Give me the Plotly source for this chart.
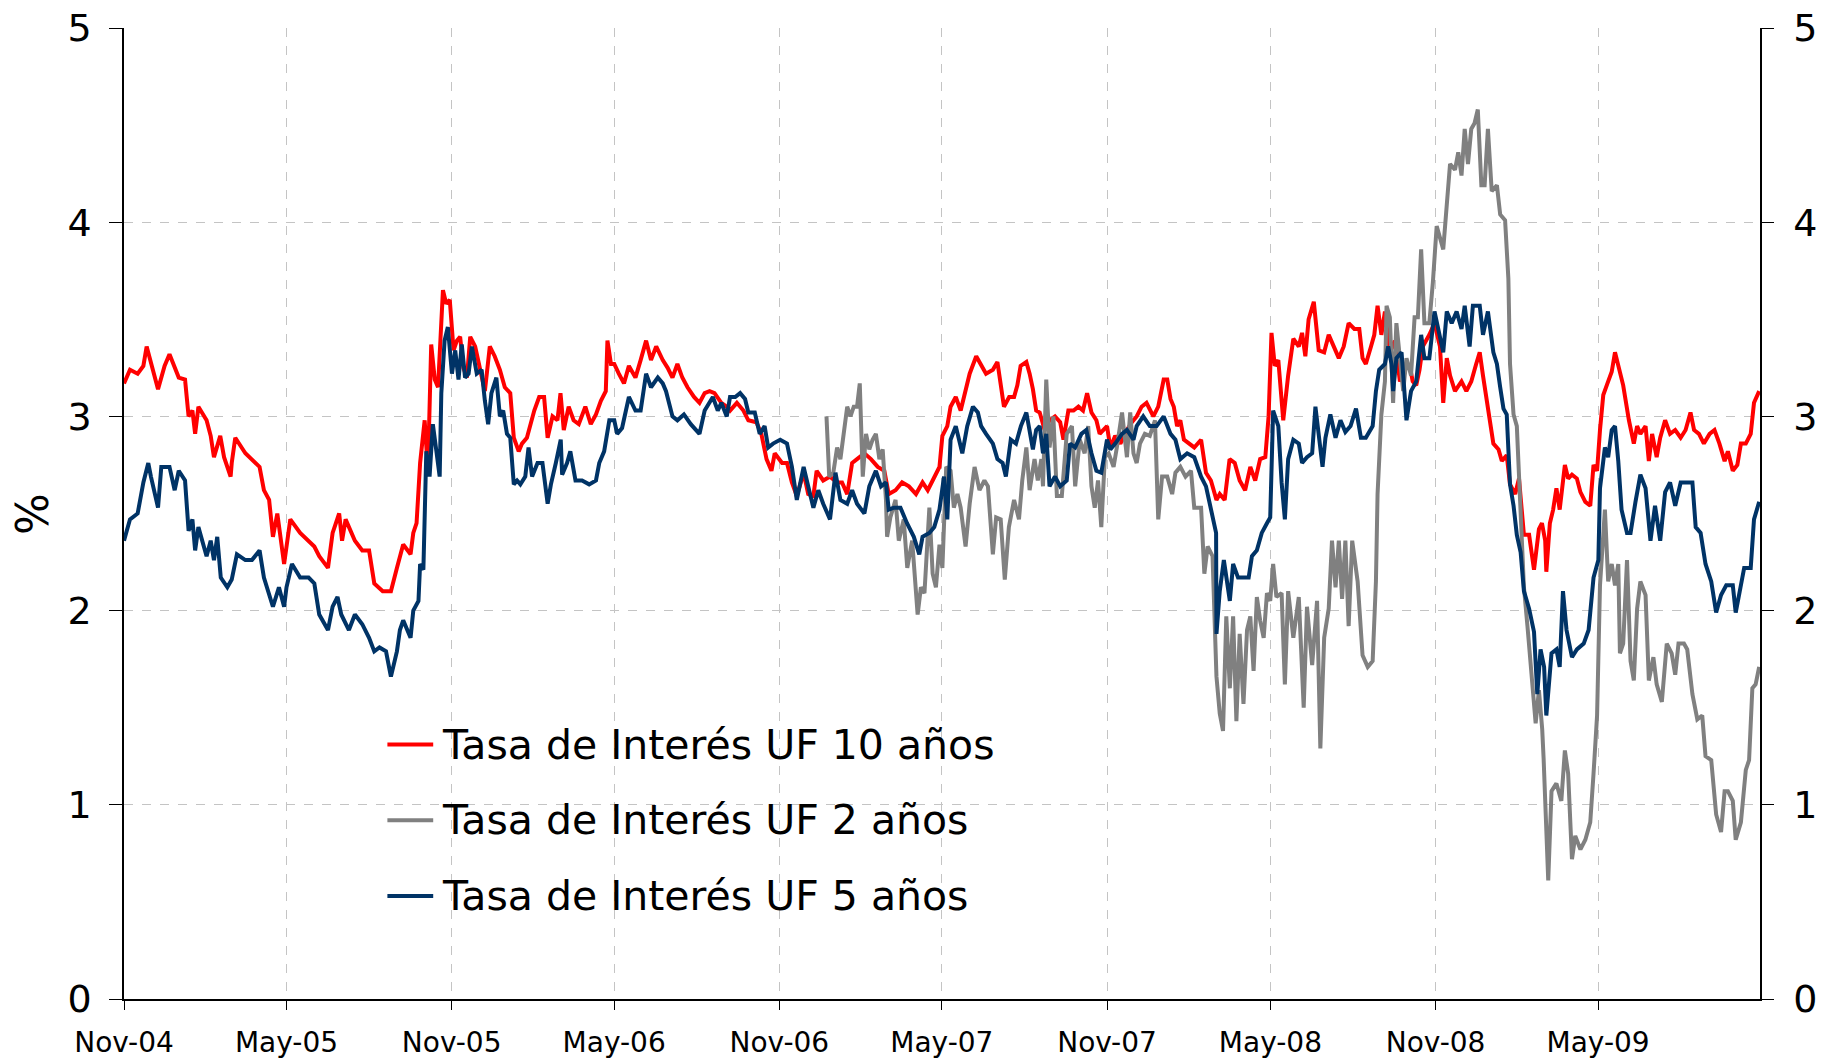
import pandas as pd
import plotly.graph_objects as go

# x values are months elapsed since 1 Nov 2004 (fractional), y values in %
START = pd.Timestamp("2004-11-01")

# --- Tasa de Interés UF 10 años ---
m10 = [0.0, 0.22, 0.5, 0.71, 0.83, 1.0, 1.26, 1.5, 1.68, 2.0, 2.23, 2.36, 2.5, 2.6, 2.72, 3.0, 3.15, 3.27, 3.5, 3.64,
       3.88, 4.0, 4.13, 4.5, 4.74, 5.0, 5.16, 5.35, 5.49, 5.65, 5.9, 6.0, 6.14, 6.5, 6.81, 7.0, 7.18, 7.5, 7.67, 7.91,
       8.03, 8.16, 8.5, 8.77, 9.0, 9.19, 9.5, 9.8, 10.0, 10.23, 10.5, 10.6, 10.72, 10.85, 11.03, 11.15, 11.27, 11.4,
       11.52, 11.58, 11.7, 11.82, 11.95, 12.07, 12.19, 12.31, 12.43, 12.56, 12.68, 12.86, 13.04, 13.23, 13.41, 13.59,
       13.78, 13.96, 14.14, 14.27, 14.45, 14.57, 14.75, 15.0, 15.18, 15.36, 15.49, 15.67, 15.85, 16.04, 16.16, 16.34,
       16.52, 16.71, 16.95, 17.13, 17.32, 17.5, 17.68, 17.74, 17.87, 17.99, 18.17, 18.36, 18.54, 18.78, 18.97, 19.15,
       19.33, 19.52, 19.76, 19.94, 20.13, 20.31, 20.49, 20.68, 20.92, 21.1, 21.29, 21.47, 21.65, 21.9, 22.08, 22.2,
       22.45, 22.69, 22.87, 23.18, 23.36, 23.55, 23.73, 23.85, 24.1, 24.28, 24.46, 24.64, 24.89, 25.07, 25.26, 25.38,
       25.62, 25.87, 26.11, 26.29, 26.48, 26.66, 26.84, 27.09, 27.33, 27.58, 27.82, 28.06, 28.31, 28.55, 28.8, 29.04,
       29.28, 29.47, 29.65, 29.9, 30.02, 30.2, 30.32, 30.51, 30.69, 30.81, 31.0, 31.24, 31.42, 31.6, 31.85, 32.03,
       32.27, 32.46, 32.64, 32.76, 32.88, 33.07, 33.19, 33.31, 33.43, 33.56, 33.74, 33.92, 34.1, 34.29, 34.41, 34.59,
       34.78, 34.96, 35.14, 35.29, 35.45, 35.63, 35.75, 36.0, 36.12, 36.3, 36.49, 36.73, 36.91, 37.1, 37.28, 37.46,
       37.71, 37.89, 38.07, 38.2, 38.32, 38.44, 38.56, 38.68, 38.81, 38.99, 39.17, 39.42, 39.6, 39.78, 40.03, 40.15,
       40.33, 40.51, 40.7, 40.88, 41.06, 41.25, 41.43, 41.61, 41.8, 41.92, 42.04, 42.16, 42.29, 42.47, 42.65, 42.84,
       43.02, 43.14, 43.26, 43.38, 43.57, 43.75, 43.95, 44.13, 44.31, 44.5, 44.68, 44.86, 45.05, 45.23, 45.35, 45.47,
       45.66, 45.78, 45.9, 46.02, 46.15, 46.33, 46.51, 46.7, 46.88, 47.06, 47.18, 47.31, 47.43, 47.55, 47.79, 47.98,
       48.16, 48.28, 48.41, 48.53, 48.71, 48.95, 49.14, 49.32, 49.5, 49.63, 49.75, 49.93, 50.11, 50.3, 50.42, 50.6,
       50.72, 50.91, 51.03, 51.21, 51.4, 51.58, 51.76, 51.87, 51.99, 52.11, 52.24, 52.36, 52.48, 52.6, 52.79, 52.91,
       53.03, 53.21, 53.34, 53.52, 53.7, 53.82, 53.95, 54.07, 54.19, 54.37, 54.5, 54.62, 54.8, 54.92, 55.11, 55.29,
       55.41, 55.53, 55.72, 55.84, 55.96, 56.14, 56.27, 56.45, 56.63, 56.82, 57.0, 57.18, 57.36, 57.49, 57.67, 57.85,
       58.04, 58.22, 58.4, 58.59, 58.71, 58.89, 59.07, 59.2, 59.38, 59.56, 59.68, 59.87]
uf10 = [3.17, 3.24, 3.22, 3.26, 3.36, 3.27, 3.14, 3.26, 3.32, 3.20, 3.19, 3.00, 3.03, 2.91, 3.05, 2.98, 2.90, 2.79, 2.90, 2.79,
        2.69, 2.76, 2.89, 2.81, 2.78, 2.74, 2.62, 2.57, 2.38, 2.50, 2.24, 2.34, 2.47, 2.40, 2.36, 2.33, 2.28, 2.22, 2.40, 2.50,
        2.36, 2.47, 2.36, 2.31, 2.31, 2.14, 2.10, 2.10, 2.22, 2.34, 2.29, 2.40, 2.45, 2.76, 2.98, 2.72, 3.37, 3.19,
        3.15, 3.31, 3.65, 3.58, 3.60, 3.34, 3.39, 3.41, 3.25, 3.20, 3.41, 3.36, 3.25, 3.13, 3.36, 3.31,
        3.24, 3.15, 3.12, 2.89, 2.82, 2.86, 2.89, 3.03, 3.10, 3.10, 2.89, 3.00, 2.98, 3.12, 2.93, 3.05,
        2.98, 2.96, 3.05, 2.96, 3.01, 3.08, 3.13, 3.39, 3.27, 3.27, 3.22, 3.17, 3.26, 3.20, 3.29, 3.39,
        3.29, 3.36, 3.29, 3.25, 3.20, 3.27, 3.20, 3.15, 3.10, 3.07, 3.12, 3.13, 3.12, 3.07, 3.05, 3.03,
        3.07, 3.03, 2.98, 2.97, 2.91, 2.78, 2.72, 2.81, 2.76, 2.76, 2.66, 2.59, 2.71, 2.60, 2.59, 2.72,
        2.67, 2.69, 2.66, 2.66, 2.60, 2.76, 2.78, 2.81, 2.78, 2.74, 2.72, 2.60, 2.62, 2.66, 2.64, 2.60,
        2.66, 2.62, 2.67, 2.74, 2.90, 2.95, 3.05, 3.10, 3.03, 3.10, 3.22, 3.31, 3.26, 3.22, 3.24, 3.28,
        3.05, 3.10, 3.10, 3.16, 3.26, 3.28, 3.22, 3.14, 3.03, 3.02, 2.93, 2.98, 3.00, 2.97, 2.88, 3.03,
        3.03, 3.05, 3.03, 3.12, 3.02, 2.98, 2.91, 2.95, 2.84, 2.90, 2.86, 2.93, 2.97, 3.00, 3.05, 3.07,
        3.00, 3.05, 3.19, 3.19, 3.09, 3.05, 2.95, 2.98, 2.88, 2.86, 2.84, 2.88, 2.71, 2.67, 2.57, 2.60,
        2.57, 2.78, 2.76, 2.67, 2.62, 2.74, 2.67, 2.78, 2.79, 3.00, 3.43, 3.26, 3.29, 2.98, 3.21, 3.40,
        3.36, 3.43, 3.31, 3.50, 3.59, 3.34, 3.33, 3.42, 3.36, 3.30, 3.36, 3.48, 3.45, 3.45, 3.30, 3.27,
        3.36, 3.42, 3.57, 3.42, 3.54, 3.33, 3.39, 3.18, 3.24, 3.27, 3.18, 3.16, 3.24, 3.36, 3.42, 3.48,
        3.36, 3.07, 3.30, 3.21, 3.13, 3.18, 3.13, 3.18, 3.27, 3.33, 3.21, 3.04, 2.86, 2.83, 2.77, 2.80,
        2.65, 2.60, 2.68, 2.39, 2.39, 2.21, 2.42, 2.45, 2.36, 2.20, 2.45, 2.52, 2.63, 2.52, 2.75, 2.68,
        2.70, 2.68, 2.61, 2.56, 2.54, 2.75, 2.72, 2.93, 3.11, 3.18, 3.23, 3.33, 3.23, 3.16, 2.98, 2.86,
        2.95, 2.91, 2.95, 2.77, 2.91, 2.79, 2.89, 2.98, 2.91, 2.93, 2.89, 2.93, 3.02, 2.93, 2.91, 2.86,
        2.91, 2.93, 2.86, 2.77, 2.82, 2.72, 2.75, 2.86, 2.86, 2.91, 3.07, 3.13]

# --- Tasa de Interés UF 2 años (starts Dec 2006) ---
m2 = [25.74, 25.84, 25.99, 26.11, 26.23, 26.35, 26.48, 26.6, 26.72, 26.84, 26.94, 27.03, 27.15, 27.27, 27.39, 27.51,
      27.64, 27.76, 27.88, 28.0, 28.12, 28.31, 28.43, 28.61, 28.74, 28.92, 29.1, 29.22, 29.35, 29.53, 29.65, 29.77,
      29.9, 30.02, 30.16, 30.32, 30.44, 30.57, 30.69, 30.87, 31.0, 31.18, 31.36, 31.54, 31.67, 31.85, 31.97, 32.15,
      32.3, 32.45, 32.64, 32.82, 32.94, 33.07, 33.19, 33.37, 33.49, 33.62, 33.68, 33.8, 33.92, 34.04, 34.17, 34.35,
      34.53, 34.72, 34.84, 35.02, 35.2, 35.33, 35.45, 35.57, 35.69, 35.81, 35.94, 36.06, 36.24, 36.36, 36.55, 36.73,
      36.85, 36.97, 37.1, 37.22, 37.4, 37.58, 37.77, 37.89, 38.01, 38.2, 38.38, 38.5, 38.68, 38.87, 39.05, 39.17,
      39.42, 39.54, 39.66, 39.84, 39.9, 40.03, 40.15, 40.27, 40.39, 40.52, 40.64, 40.76, 40.88, 41.0, 41.13, 41.25,
      41.37, 41.49, 41.61, 41.74, 41.86, 41.98, 42.1, 42.22, 42.41, 42.53, 42.65, 42.84, 43.02, 43.2, 43.32, 43.51,
      43.69, 43.81, 43.95, 44.13, 44.25, 44.38, 44.5, 44.62, 44.74, 44.86, 44.99, 45.17, 45.35, 45.54, 45.72, 45.84,
      45.9, 46.02, 46.15, 46.21, 46.33, 46.45, 46.57, 46.7, 46.82, 46.94, 47.12, 47.25, 47.37, 47.49, 47.61, 47.79,
      47.92, 48.04, 48.16, 48.28, 48.41, 48.53, 48.71, 48.83, 48.95, 49.08, 49.2, 49.32, 49.44, 49.56, 49.69, 49.81,
      49.93, 50.05, 50.24, 50.36, 50.54, 50.66, 50.72, 50.85, 50.97, 51.09, 51.21, 51.34, 51.52, 51.64, 51.76, 51.88,
      52.01, 52.18, 52.3, 52.48, 52.66, 52.79, 52.91, 53.03, 53.15, 53.34, 53.52, 53.7, 53.82, 53.95, 54.07, 54.25,
      54.37, 54.5, 54.62, 54.74, 54.8, 54.92, 55.04, 55.17, 55.29, 55.41, 55.53, 55.72, 55.84, 56.02, 56.14, 56.33,
      56.51, 56.69, 56.82, 56.94, 57.12, 57.24, 57.43, 57.61, 57.79, 57.91, 58.1, 58.28, 58.46, 58.59, 58.71, 58.89,
      59.01, 59.2, 59.38, 59.5, 59.62, 59.74, 59.87]
uf2 = [3.00, 2.69, 2.71, 2.84, 2.78, 2.90, 3.05, 3.00, 3.05, 3.05, 3.17, 2.69, 2.91, 2.83, 2.88, 2.91,
       2.78, 2.83, 2.57, 2.38, 2.48, 2.57, 2.36, 2.47, 2.22, 2.36, 1.98, 2.12, 2.09, 2.53, 2.19, 2.12,
       2.34, 2.22, 2.74, 2.72, 2.53, 2.60, 2.53, 2.33, 2.55, 2.74, 2.62, 2.67, 2.64, 2.29, 2.48, 2.47,
       2.16, 2.43, 2.57, 2.47, 2.67, 2.84, 2.62, 2.78, 2.67, 2.78, 2.64, 3.19, 2.84, 3.00, 2.59, 2.59,
       2.91, 2.95, 2.64, 2.88, 2.81, 2.95, 2.64, 2.53, 2.67, 2.43, 2.79, 2.81, 2.74, 2.84, 3.02, 2.79,
       3.02, 2.81, 2.76, 2.86, 2.91, 2.90, 2.98, 2.47, 2.69, 2.69, 2.60, 2.71, 2.74, 2.69, 2.72, 2.53,
       2.53, 2.19, 2.33, 2.28, 2.05, 1.66, 1.47, 1.38, 1.97, 1.60, 1.97, 1.43, 1.88, 1.52, 1.90, 1.97,
       1.69, 2.07, 1.95, 1.86, 2.09, 2.05, 2.24, 2.07, 2.09, 1.62, 2.10, 1.86, 2.07, 1.50, 2.02, 1.72,
       2.05, 1.29, 1.86, 2.01, 2.36, 2.12, 2.36, 2.06, 2.36, 1.92, 2.36, 2.15, 1.77, 1.71, 1.74, 2.15,
       2.60, 3.01, 3.18, 3.57, 3.51, 3.07, 3.48, 3.30, 3.13, 3.30, 3.21, 3.51, 3.51, 3.86, 3.48, 3.48,
       3.69, 3.98, 3.92, 3.86, 4.09, 4.30, 4.27, 4.36, 4.24, 4.48, 4.30, 4.48, 4.51, 4.58, 4.19, 4.19,
       4.48, 4.16, 4.19, 4.04, 4.01, 3.71, 3.27, 3.01, 2.95, 2.45, 2.12, 1.92, 1.62, 1.42, 1.59, 1.39,
       1.24, 0.61, 1.07, 1.11, 1.02, 1.28, 1.16, 0.72, 0.84, 0.77, 0.82, 0.91, 1.16, 1.46, 2.13, 2.52,
       2.15, 2.24, 2.13, 2.24, 1.78, 1.83, 2.26, 1.74, 1.64, 2.01, 2.15, 2.08, 1.64, 1.76, 1.62, 1.53,
       1.83, 1.78, 1.67, 1.83, 1.83, 1.80, 1.57, 1.44, 1.46, 1.25, 1.23, 0.95, 0.86, 1.07, 1.07, 1.02,
       0.82, 0.91, 1.18, 1.23, 1.60, 1.62, 1.71]

# --- Tasa de Interés UF 5 años ---
m5 = [0.0, 0.22, 0.5, 0.71, 0.89, 1.0, 1.26, 1.38, 1.68, 1.87, 2.0, 2.23, 2.36, 2.5, 2.6, 2.72, 3.0, 3.15, 3.27, 3.39,
      3.52, 3.76, 4.0, 4.19, 4.5, 4.74, 5.0, 5.16, 5.49, 5.71, 5.9, 6.0, 6.2, 6.5, 6.81, 7.0, 7.18, 7.5, 7.67, 7.85,
      8.0, 8.28, 8.5, 8.77, 9.0, 9.19, 9.38, 9.62, 9.8, 10.0, 10.11, 10.23, 10.5, 10.6, 10.79, 10.85, 10.97, 11.09,
      11.21, 11.33, 11.46, 11.58, 11.64, 11.76, 11.88, 12.01, 12.13, 12.25, 12.37, 12.49, 12.62, 12.74, 12.92, 13.11,
      13.23, 13.35, 13.47, 13.65, 13.78, 13.9, 14.02, 14.14, 14.27, 14.39, 14.51, 14.69, 14.81, 14.94, 15.12, 15.3,
      15.49, 15.61, 15.79, 15.97, 16.1, 16.28, 16.4, 16.59, 16.83, 17.07, 17.32, 17.44, 17.62, 17.81, 17.99, 18.11,
      18.29, 18.54, 18.78, 18.97, 19.15, 19.33, 19.58, 19.76, 19.88, 20.0, 20.13, 20.31, 20.55, 20.8, 20.98, 21.1,
      21.29, 21.47, 21.59, 21.77, 21.9, 22.08, 22.2, 22.39, 22.57, 22.75, 22.87, 23.12, 23.3, 23.48, 23.61, 23.79,
      24.03, 24.28, 24.46, 24.64, 24.89, 25.07, 25.26, 25.44, 25.62, 25.87, 26.05, 26.23, 26.48, 26.66, 26.84, 27.09,
      27.27, 27.51, 27.7, 27.88, 28.06, 28.25, 28.49, 28.73, 28.98, 29.16, 29.28, 29.53, 29.71, 29.9, 30.08, 30.2,
      30.32, 30.51, 30.75, 30.93, 31.12, 31.3, 31.42, 31.6, 31.85, 32.03, 32.22, 32.34, 32.52, 32.71, 32.89, 33.07,
      33.19, 33.31, 33.43, 33.56, 33.68, 33.8, 33.92, 34.1, 34.29, 34.53, 34.65, 34.84, 35.08, 35.26, 35.45, 35.63,
      35.81, 36.0, 36.12, 36.3, 36.55, 36.73, 36.97, 37.1, 37.34, 37.58, 37.83, 38.07, 38.32, 38.5, 38.68, 38.93,
      39.17, 39.42, 39.6, 39.78, 39.97, 40.03, 40.15, 40.3, 40.52, 40.64, 40.82, 41.19, 41.31, 41.49, 41.67, 41.86,
      41.98, 42.1, 42.29, 42.41, 42.53, 42.65, 42.84, 43.02, 43.14, 43.32, 43.51, 43.63, 43.75, 43.89, 44.01, 44.19,
      44.38, 44.56, 44.74, 44.93, 45.11, 45.29, 45.47, 45.72, 45.84, 45.96, 46.15, 46.27, 46.39, 46.45, 46.57, 46.76,
      46.94, 47.12, 47.31, 47.49, 47.61, 47.79, 47.98, 48.1, 48.28, 48.41, 48.59, 48.77, 48.95, 49.08, 49.26, 49.38,
      49.63, 49.75, 49.93, 50.11, 50.24, 50.36, 50.48, 50.6, 50.72, 50.85, 50.97, 51.09, 51.21, 51.4, 51.58, 51.7,
      51.82, 51.95, 52.11, 52.3, 52.48, 52.6, 52.72, 52.85, 53.03, 53.21, 53.46, 53.64, 53.82, 54.01, 54.07, 54.25,
      54.37, 54.5, 54.62, 54.74, 54.86, 55.04, 55.17, 55.35, 55.53, 55.72, 55.9, 56.08, 56.27, 56.45, 56.63, 56.82,
      57.0, 57.24, 57.43, 57.55, 57.73, 57.91, 58.1, 58.28, 58.46, 58.65, 58.89, 59.01, 59.2, 59.32, 59.56, 59.68,
      59.87]
uf5 = [2.36, 2.47, 2.50, 2.66, 2.76, 2.69, 2.53, 2.74, 2.74, 2.62, 2.72, 2.67, 2.41, 2.47, 2.31, 2.43, 2.28, 2.36, 2.26, 2.38,
       2.17, 2.12, 2.16, 2.29, 2.26, 2.26, 2.31, 2.17, 2.02, 2.12, 2.02, 2.12, 2.24, 2.17, 2.17, 2.14, 1.98, 1.90, 2.02, 2.07,
       1.98, 1.90, 1.98, 1.93, 1.86, 1.79, 1.81, 1.79, 1.66, 1.79, 1.90, 1.95, 1.86, 2.00, 2.05, 2.24, 2.21, 2.82,
       2.69, 2.96, 2.82, 2.69, 3.12, 3.39, 3.46, 3.22, 3.34, 3.19, 3.37, 3.20, 3.22, 3.36, 3.22, 3.24,
       3.08, 2.96, 3.12, 3.20, 3.00, 3.03, 2.91, 2.89, 2.65, 2.67, 2.65, 2.69, 2.84, 2.69, 2.76, 2.76,
       2.55, 2.65, 2.76, 2.88, 2.70, 2.76, 2.82, 2.67, 2.67, 2.65, 2.67, 2.76, 2.82, 2.98, 2.98, 2.91,
       2.94, 3.10, 3.03, 3.03, 3.22, 3.15, 3.20, 3.17, 3.13, 3.07, 3.00, 2.98, 3.01, 2.96, 2.93, 2.91,
       3.03, 3.07, 3.10, 3.03, 3.07, 3.00, 3.10, 3.10, 3.12, 3.09, 3.02, 3.02, 2.91, 2.95, 2.84, 2.86,
       2.88, 2.86, 2.74, 2.57, 2.74, 2.64, 2.53, 2.62, 2.55, 2.47, 2.71, 2.57, 2.55, 2.62, 2.55, 2.50,
       2.64, 2.72, 2.64, 2.66, 2.52, 2.53, 2.53, 2.45, 2.38, 2.29, 2.38, 2.40, 2.43, 2.52, 2.69, 2.47,
       2.88, 2.95, 2.81, 2.95, 3.05, 3.02, 2.95, 2.91, 2.86, 2.78, 2.76, 2.69, 2.88, 2.86, 2.95, 3.02,
       2.91, 2.83, 2.93, 2.95, 2.81, 2.91, 2.64, 2.69, 2.64, 2.67, 2.86, 2.84, 2.91, 2.93, 2.81, 2.72,
       2.71, 2.88, 2.83, 2.86, 2.91, 2.93, 2.88, 2.95, 3.00, 2.95, 2.95, 3.00, 2.91, 2.88, 2.78, 2.81,
       2.79, 2.69, 2.64, 2.53, 2.40, 1.88, 2.10, 2.26, 2.05, 2.24, 2.17, 2.17, 2.28, 2.31, 2.40, 2.45,
       2.48, 3.03, 2.95, 2.66, 2.47, 2.78, 2.88, 2.86, 2.76, 2.79, 2.81, 3.05, 2.91, 2.74, 2.89, 3.01,
       2.89, 2.98, 2.92, 2.95, 3.04, 2.89, 2.89, 2.95, 3.13, 3.24, 3.27, 3.36, 3.27, 3.13, 3.30, 3.33,
       2.98, 3.13, 3.18, 3.42, 3.30, 3.30, 3.54, 3.45, 3.33, 3.54, 3.48, 3.54, 3.45, 3.57, 3.36, 3.57,
       3.57, 3.42, 3.54, 3.33, 3.27, 3.15, 3.04, 3.01, 2.65, 2.54, 2.39, 2.30, 2.10, 2.01, 1.89, 1.57,
       1.80, 1.71, 1.46, 1.78, 1.80, 1.71, 2.10, 1.90, 1.76, 1.80, 1.83, 1.90, 2.17, 2.26, 2.63, 2.84,
       2.79, 2.93, 2.95, 2.77, 2.52, 2.40, 2.40, 2.56, 2.70, 2.63, 2.36, 2.54, 2.36, 2.61, 2.66, 2.54,
       2.66, 2.66, 2.66, 2.43, 2.40, 2.24, 2.15, 1.99, 2.08, 2.13, 2.13, 1.99, 2.13, 2.22, 2.22, 2.47,
       2.56]


def to_dates(months):
    # fractional month offsets -> timestamps
    out = []
    for m in months:
        whole = int(m)
        out.append(START + pd.DateOffset(months=whole) + pd.Timedelta(days=(m - whole) * 30.4))
    return out


series = [
    ("Tasa de Interés UF 10 años", m10, uf10, "#FF0000"),
    ("Tasa de Interés UF 2 años", m2, uf2, "#808080"),
    ("Tasa de Interés UF 5 años", m5, uf5, "#003366"),
]

fig = go.Figure()
for name, m, vals, color in series:
    fig.add_trace(go.Scatter(x=to_dates(m), y=vals, mode="lines", name=name, showlegend=False,
                             line=dict(color=color, width=4)))

# dummy trace so the right-hand axis gets drawn
fig.add_trace(go.Scatter(x=[START], y=[None], yaxis="y2", showlegend=False, hoverinfo="skip"))

# hand-drawn legend box (white patch over the grid, short line + label per series)
shapes = [dict(type="rect", xref="paper", yref="paper", x0=0.153, x1=0.545, y0=0.075, y1=0.295,
               fillcolor="white", line=dict(width=0), layer="between")]
annotations = []
row_y = [0.262, 0.184, 0.106]
for (name, _, _, color), ry in zip(series, row_y):
    shapes.append(dict(type="line", xref="paper", yref="paper", x0=0.161, x1=0.189, y0=ry, y1=ry,
                       line=dict(color=color, width=4), layer="between"))
    annotations.append(dict(text=name, xref="paper", yref="paper", x=0.193, y=ry, xanchor="left",
                            yanchor="middle", showarrow=False, font=dict(size=41)))

# y-axis title
annotations.append(dict(text="%", xref="paper", yref="paper", x=-0.056, y=0.5, xanchor="center",
                        yanchor="middle", showarrow=False, textangle=-90, font=dict(size=44)))

x_end = to_dates([59.9])[0]
grid = dict(showgrid=True, gridcolor="#C4C4C4", gridwidth=1, griddash="dash")

fig.update_layout(
    width=1822, height=1058,
    margin=dict(l=124, r=62, t=28, b=59),
    plot_bgcolor="white", paper_bgcolor="white",
    font=dict(family="DejaVu Sans", color="black"),
    xaxis=dict(type="date", range=[START, x_end], tick0="2004-11-01", dtick="M6", tickformat="%b-%y",
               showline=True, linecolor="black", linewidth=1.5, ticks="outside", ticklen=9,
               tickcolor="black", tickfont=dict(size=28), ticklabelstandoff=9, zeroline=False,
               automargin=False, **grid),
    yaxis=dict(range=[0, 5], dtick=1, showline=True, linecolor="black", linewidth=1.5, ticks="outside",
               ticklen=13, tickcolor="black", tickfont=dict(size=38), ticklabelstandoff=10,
               zeroline=False, automargin=False, **grid),
    yaxis2=dict(range=[0, 5], dtick=1, overlaying="y", side="right", showgrid=False, showline=True,
                linecolor="black", linewidth=1.5, ticks="outside", ticklen=12, tickcolor="black",
                tickfont=dict(size=38), ticklabelstandoff=12, zeroline=False, automargin=False),
    showlegend=False,
    shapes=shapes,
    annotations=annotations,
)

# page body has a default 8px margin; remove it so the figure sits at the window origin
fig.write_html("out.html", config={"displayModeBar": False},
               post_script="document.body.style.margin='0px';")
